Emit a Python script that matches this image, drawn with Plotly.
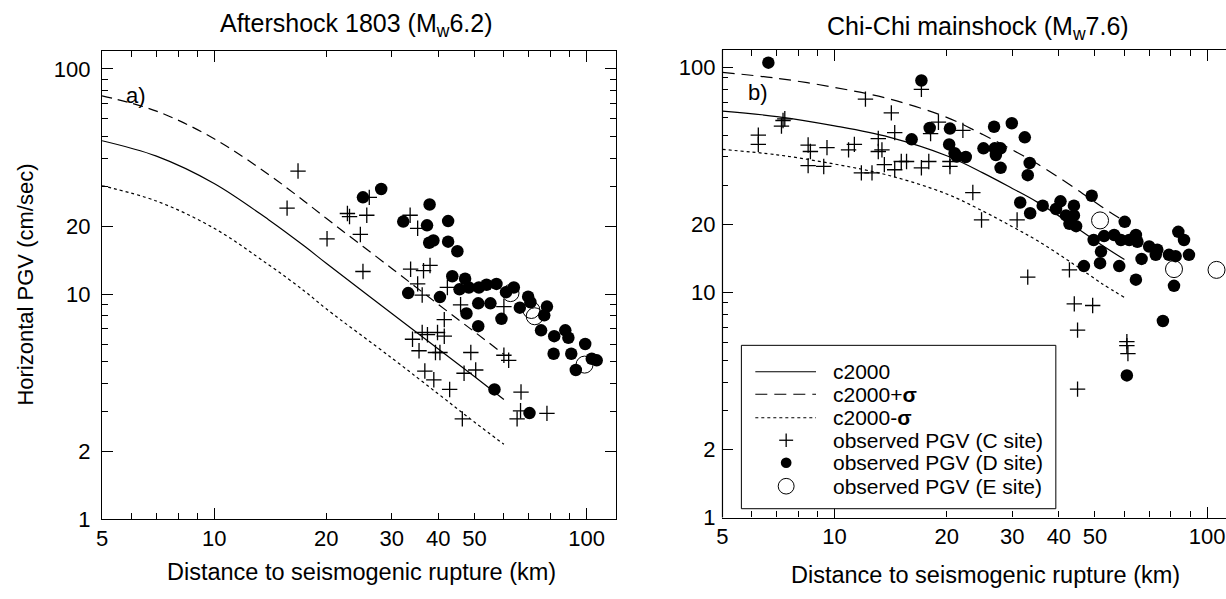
import math
import plotly.graph_objects as go

# ---------------- data ----------------
# Model curves, aftershock 1803 (panel a)
aft_curve_x = [5, 7, 10, 14, 17.5, 20, 30, 40, 50, 60]
aft_c2000 = [48, 41, 31, 21.4, 16.3, 13.7, 8.2, 5.7, 4.3, 3.4]
aft_plus = [76, 65, 49, 34, 25.8, 21.7, 13.0, 9.0, 6.8, 5.4]
aft_minus = [30.3, 25.9, 19.6, 13.5, 10.3, 8.6, 5.2, 3.6, 2.7, 2.15]

# observed, aftershock (panel a)
aft_c_x = [16.8, 15.7, 22.8, 23.1, 25.7, 20.1, 24.7, 25.1, 26.1, 33.6, 35.2, 33.7, 36.5, 38.0,
           35.2, 36.2, 42.3, 45.9, 41.5, 60, 36.2, 39.8, 41.5, 34.1, 37.4, 35.5, 39.3, 40.4,
           48.9, 36.8, 38.9, 50.4, 46.9, 42.9, 46.4, 60, 61.8, 66.7, 66.5, 65.1, 78.3]
aft_c_y = [35.2, 24.1, 22.8, 22.1, 22.4, 17.6, 18.4, 12.6, 26.9, 22.4, 19.6, 12.9, 12.7, 13.4,
           11.1, 9.9, 10.7, 8.96, 7.7, 8.8, 6.75, 6.75, 6.5, 6.3, 6.6, 5.6, 5.5, 5.5,
           5.5, 4.55, 4.16, 4.6, 4.45, 3.77, 2.79, 5.35, 5.08, 3.67, 3.03, 2.79, 2.95]
aft_d_x = [25.1, 28.1, 37.9, 32.2, 37.3, 42.5, 37.8, 38.8, 42.5, 45, 43.6, 47.2, 33.2, 40.4,
           45.6, 48.3, 51.4, 53.9, 57.3, 60.8, 63.8, 51.2, 55.2, 47.6, 51.2, 59.1, 66.2, 69.7,
           70.7, 78.3, 77, 75.5, 81.9, 87.7, 89.4, 99.2, 81.6, 91, 93.6, 103.3, 106.5, 56.6, 70.3]
aft_d_y = [26.9, 29.3, 25.0, 21.0, 20.2, 21.1, 16.9, 17.3, 17.1, 15.5, 12.0, 11.7, 10.1, 9.7,
           10.5, 10.7, 10.7, 11.0, 11.1, 10.2, 10.7, 9.1, 9.1, 8.2, 7.2, 7.76, 8.7, 9.74,
           9.2, 8.8, 8.05, 6.9, 6.5, 6.9, 6.4, 6.0, 5.43, 5.43, 4.6, 5.16, 5.08, 3.77, 2.96]
aft_e_x = [62.5, 71.1, 72.6, 98.8]
aft_e_y = [10.1, 8.5, 7.97, 4.86]

# Model curves, Chi-Chi mainshock (panel b)
cc_curve_x = [5, 7, 10, 14, 20, 25, 30, 35, 44, 52, 60]
cc_c2000 = [64, 60.5, 55, 49, 40.5, 34, 29, 25.2, 19.7, 16.3, 14.0]
cc_plus = [95, 89.5, 81.5, 72.5, 60, 50.3, 43, 37.3, 29.2, 24.1, 20.7]
cc_minus = [43.2, 40.9, 37.2, 33.1, 27.4, 23, 19.6, 17.0, 13.3, 11.0, 9.5]

# observed, Chi-Chi mainshock (panel b)
cc_c_x = [6.24, 6.24, 7.27, 7.2, 7.35, 8.49, 8.61, 8.49, 9.54, 9.35, 10.9, 11.3, 11.8, 12.6,
          12.1, 13.1, 13.4, 13.1, 14.2, 14.5, 13.6, 14.5, 15.1, 15.6, 17.1, 17.9, 17.1, 18.1,
          19.0, 20.4, 20.4, 22.1, 23.5, 24.8, 30.9, 33.0, 42.7, 44.0, 49.3, 44.9, 60.9, 60.9,
          61.3, 44.9]
cc_c_y = [50, 45.5, 58.1, 54.9, 59.1, 45.2, 42.3, 36.6, 44, 36.3, 43, 45.5, 34, 34,
          72.3, 48.3, 43, 42.3, 62.8, 51.3, 37, 35.1, 38.2, 38.2, 35.8, 38.2, 79.9, 50.8,
          57.1, 38.2, 36.3, 52.5, 27.8, 21.0, 21.0, 11.7, 12.6, 8.9, 8.75, 6.8, 6.05, 5.8,
          5.35, 3.72]
cc_d_x = [6.64, 17.1, 16.1, 18.0, 20.4, 20.3, 21.0, 21.3, 22.5, 25.1, 26.9, 27.9, 27.1, 26.8,
          27.9, 29.9, 32.4, 33.4, 33.0, 31.5, 33.5, 36.2, 39.3, 40.4, 41.8, 43.9, 43.9, 42.7,
          44.5, 49.0, 60.1, 49.6, 51.9, 51.6, 46.7, 52.9, 56.3, 58.7, 61.8, 64.4, 65.0, 58.1,
          66.7, 64.4, 69.9, 73.5, 72.8, 79.0, 82.3, 83.7, 86.7, 89.4, 81.5, 76.1, 60.9]
cc_d_y = [105, 87.5, 47.9, 53.8, 53.5, 45.5, 41.6, 40.2, 40.0, 43.7, 43.7, 43.7, 40.8, 54.5,
          35.8, 56.5, 48.9, 37.6, 33.2, 25.1, 22.5, 24.3, 23.5, 25.4, 22.0, 24.3, 22.0, 20.2,
          19.7, 26.9, 20.6, 17.1, 15.2, 13.5, 13.1, 17.8, 18.0, 17.1, 17.1, 18.0, 16.8, 13.1,
          14.1, 11.4, 16.0, 15.5, 14.7, 14.7, 14.5, 18.6, 17.1, 14.7, 10.7, 7.47, 4.28]
cc_e_x = [51.6, 81.5, 106]
cc_e_y = [20.9, 12.7, 12.6]

# axis ticks
x_tick_vals = [5, 10, 20, 30, 40, 50, 100]
x_tick_text = ["5", "10", "20", "30", "40", "50", "100"]
x_long_ticks = [10, 100]
x_minor_vals = [6, 7, 8, 9, 60, 70, 80, 90]
y_tick_vals = [1, 2, 10, 20, 100]
y_tick_text = ["1", "2", "10", "20", "100"]
y_minor_vals = [3, 4, 5, 6, 7, 8, 9, 30, 40, 50, 60, 70, 80, 90]

legend_labels = ["c2000", "c2000+<b>σ</b>", "c2000-<b>σ</b>",
                 "observed PGV (C site)", "observed PGV (D site)", "observed PGV (E site)"]

# ---------------- layout geometry ----------------
W, H = 1226, 599
FONT = "Liberation Sans, Arial, Helvetica, sans-serif"


def px(x):
    return x / W


def py(y):
    return 1 - y / H


def dom_x(a, b):
    return [px(a), px(b)]


def dom_y(top, bottom):
    return [py(bottom), py(top)]


fig = go.Figure()

LW = 1.2
cross = dict(symbol="cross-thin", size=11, line=dict(width=1.3, color="black"), color="black")
dot = dict(symbol="circle", size=12.5, color="black", line=dict(width=0))
ring = dict(symbol="circle-open", size=17, color="black", line=dict(width=1))


def add_panel(xa, ya, cx, solid, plus, minus, dash_plus, c_x, c_y, d_x, d_y, e_x, e_y):
    fig.add_trace(go.Scatter(x=cx, y=solid, mode="lines", line=dict(color="black", width=LW, shape="spline"),
                             xaxis=xa, yaxis=ya, showlegend=False, hoverinfo="skip"))
    fig.add_trace(go.Scatter(x=cx, y=plus, mode="lines",
                             line=dict(color="black", width=LW, dash=dash_plus, shape="spline"),
                             xaxis=xa, yaxis=ya, showlegend=False, hoverinfo="skip"))
    fig.add_trace(go.Scatter(x=cx, y=minus, mode="lines",
                             line=dict(color="black", width=LW, dash="3px,3px", shape="spline"),
                             xaxis=xa, yaxis=ya, showlegend=False, hoverinfo="skip"))
    fig.add_trace(go.Scatter(x=c_x, y=c_y, mode="markers", marker=cross, xaxis=xa, yaxis=ya,
                             showlegend=False))
    fig.add_trace(go.Scatter(x=d_x, y=d_y, mode="markers", marker=dot, xaxis=xa, yaxis=ya,
                             showlegend=False))
    fig.add_trace(go.Scatter(x=e_x, y=e_y, mode="markers", marker=ring, xaxis=xa, yaxis=ya,
                             showlegend=False))


add_panel("x", "y", aft_curve_x, aft_c2000, aft_plus, aft_minus, "10px,6px",
          aft_c_x, aft_c_y, aft_d_x, aft_d_y, aft_e_x, aft_e_y)
add_panel("x2", "y2", cc_curve_x, cc_c2000, cc_plus, cc_minus, "12px,7px",
          cc_c_x, cc_c_y, cc_d_x, cc_d_y, cc_e_x, cc_e_y)

# empty traces so the long-tick overlay axes get drawn
fig.add_trace(go.Scatter(x=[], y=[], xaxis="x3", yaxis="y", showlegend=False))
fig.add_trace(go.Scatter(x=[], y=[], xaxis="x4", yaxis="y2", showlegend=False))

tickfont = dict(family=FONT, size=22, color="black")


def xaxis_cfg(domain, rng, anchor):
    return dict(type="log", range=[math.log10(rng[0]), math.log10(rng[1])], domain=domain,
                anchor=anchor, tickmode="array", tickvals=x_tick_vals, ticktext=x_tick_text,
                ticks="inside", ticklen=6, tickwidth=1, tickcolor="black",
                minor=dict(tickmode="array", tickvals=x_minor_vals, ticks="inside", ticklen=6,
                           tickwidth=1, tickcolor="black", showgrid=False),
                showline=True, linecolor="black", linewidth=1.2, mirror="ticks",
                showgrid=False, zeroline=False, tickfont=tickfont, ticklabelstandoff=-1)


def xlong_cfg(rng, over, anchor):
    return dict(type="log", range=[math.log10(rng[0]), math.log10(rng[1])], overlaying=over,
                anchor=anchor, tickmode="array", tickvals=x_long_ticks, showticklabels=False,
                ticks="inside", ticklen=11, tickwidth=1, tickcolor="black",
                showline=False, mirror="ticks", showgrid=False, zeroline=False)


def yaxis_cfg(domain, anchor, mirror_side=True):
    return dict(type="log", range=[0, math.log10(120)], domain=domain, anchor=anchor,
                tickmode="array", tickvals=y_tick_vals, ticktext=y_tick_text,
                ticks="inside", ticklen=11, tickwidth=1, tickcolor="black",
                minor=dict(tickmode="array", tickvals=y_minor_vals, ticks="inside", ticklen=6,
                           tickwidth=1, tickcolor="black", showgrid=False),
                showline=mirror_side, linecolor="black", linewidth=1.2,
                mirror="ticks" if mirror_side else False,
                showgrid=False, zeroline=False, tickfont=tickfont, ticklabelstandoff=6)


left_rng = (5, 120)
right_rng = (5, 112.4)

fig.update_layout(
    width=W, height=H, margin=dict(l=0, r=0, t=0, b=0),
    paper_bgcolor="white", plot_bgcolor="white", showlegend=False,
    font=dict(family=FONT, color="black"),
    xaxis=xaxis_cfg(dom_x(96.5, 613), left_rng, "y"),
    yaxis=yaxis_cfg(dom_y(52.3, 530.7), "x"),
    xaxis2=xaxis_cfg(dom_x(720, 1226), right_rng, "y2"),
    yaxis2=yaxis_cfg(dom_y(50.7, 529), "x2", mirror_side=False),
    xaxis3=xlong_cfg(left_rng, "x", "y"),
    xaxis4=xlong_cfg(right_rng, "x2", "y2"),
)

ann = []


def text(x, y, s, size, **kw):
    d = dict(x=px(x), y=py(y), xref="paper", yref="paper", text=s, showarrow=False,
             font=dict(family=FONT, size=size, color="black"), xanchor="center", yanchor="middle")
    d.update(kw)
    ann.append(d)


text(352, 26, "Aftershock 1803 (M<sub>w</sub>6.2)", 25)
text(977, 29, "Chi-Chi mainshock (M<sub>w</sub>7.6)", 25)
text(357, 585, "Distance to seismogenic rupture (km)", 23.5)
text(984, 588, "Distance to seismogenic rupture (km)", 23.5)
text(20, 291, "Horizontal PGV (cm/sec)", 22, textangle=-90)
text(131, 98, "a)", 22)
text(756, 95, "b)", 22)

shapes = []
# left axis line of panel b (its right side is cut off in the reference)
shapes.append(dict(type="line", xref="paper", yref="paper", x0=px(720), x1=px(720),
                   y0=py(529), y1=py(50.7), line=dict(color="black", width=1.2), layer="above"))

# manual legend (panel b)
box_l, box_r, box_t, box_b = 739, 1055, 353, 520
shapes.append(dict(type="rect", xref="paper", yref="paper", x0=px(box_l), x1=px(box_r),
                   y0=py(box_b), y1=py(box_t), line=dict(color="black", width=1),
                   fillcolor="white", layer="above"))
rows = [380, 403, 427, 450, 473, 497]
line_dashes = ["solid", "12px,7px", "3px,3px"]
for i, lab in enumerate(legend_labels):
    ry = rows[i]
    text(829, ry, lab, 21, xanchor="left")
    if i < 3:
        shapes.append(dict(type="line", xref="paper", yref="paper", x0=px(753), x1=px(814),
                           y0=py(ry), y1=py(ry), line=dict(color="black", width=LW, dash=line_dashes[i]),
                           layer="above"))
    elif i == 3:
        shapes.append(dict(type="line", xref="paper", yref="paper", x0=px(777), x1=px(791),
                           y0=py(ry), y1=py(ry), line=dict(color="black", width=1.3), layer="above"))
        shapes.append(dict(type="line", xref="paper", yref="paper", x0=px(784), x1=px(784),
                           y0=py(ry - 7), y1=py(ry + 7), line=dict(color="black", width=1.3), layer="above"))
    elif i == 4:
        r = 5.4
        shapes.append(dict(type="circle", xref="paper", yref="paper", x0=px(784 - r), x1=px(784 + r),
                           y0=py(ry + r), y1=py(ry - r), fillcolor="black",
                           line=dict(color="black", width=0), layer="above"))
    else:
        r = 8
        shapes.append(dict(type="circle", xref="paper", yref="paper", x0=px(784 - r), x1=px(784 + r),
                           y0=py(ry + r), y1=py(ry - r), fillcolor="white",
                           line=dict(color="black", width=1), layer="above"))

fig.update_layout(annotations=ann, shapes=shapes)
fig.write_html("out.html")
